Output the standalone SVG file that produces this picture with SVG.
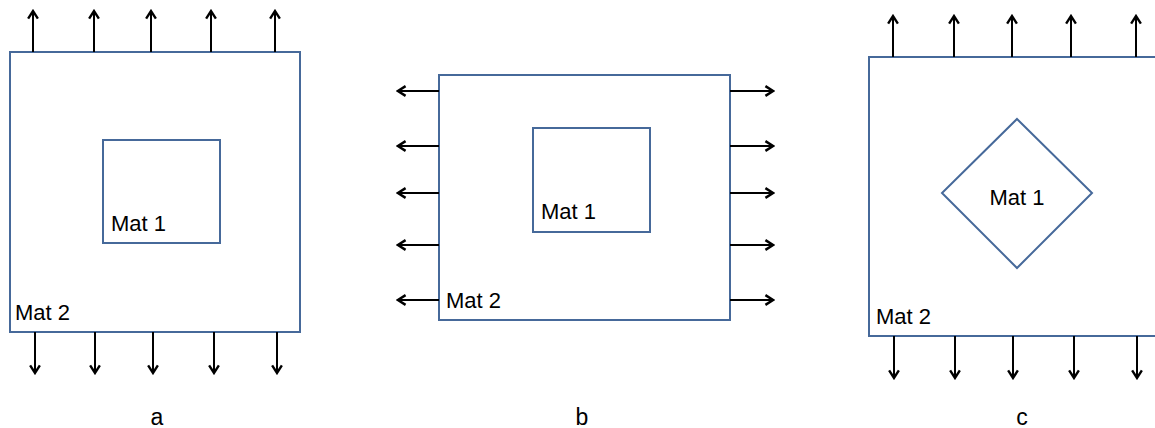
<svg xmlns="http://www.w3.org/2000/svg" width="1155" height="428" viewBox="0 0 1155 428">
<style>
.box{fill:none;stroke:#46699a;stroke-width:2}
.arr{stroke:#000;stroke-width:2;fill:none;marker-end:url(#ah)}
text{font-family:"Liberation Sans",Arial,sans-serif;font-size:22px;fill:#000}
.cap{font-size:23px}
</style>
<defs>
<marker id="ah" viewBox="0 0 12 12" refX="10" refY="6" markerWidth="6.5" markerHeight="6.5" orient="auto" markerUnits="strokeWidth">
<path d="M3,1.5 L10,6 L3,10.5" fill="none" stroke="#000" stroke-width="2.2"/>
</marker>
</defs>
<g id="panel-a">
<rect class="box" x="10" y="52" width="290" height="280"/>
<rect class="box" x="103" y="140" width="117" height="103"/>
<text x="111" y="231">Mat 1</text>
<text x="15" y="320">Mat 2</text>
<text class="cap" x="157" y="425" text-anchor="middle">a</text>
</g>
<g id="panel-b">
<rect class="box" x="439" y="75" width="291" height="245"/>
<rect class="box" x="533" y="128" width="117" height="104"/>
<text x="541" y="219">Mat 1</text>
<text x="446" y="308">Mat 2</text>
<text class="cap" x="582" y="425" text-anchor="middle">b</text>
</g>
<g id="panel-c">
<rect class="box" x="869" y="57" width="300" height="279"/>
<polygon class="box" points="1017,119 1092,193 1017,268 942,193"/>
<text x="1017" y="205" text-anchor="middle">Mat 1</text>
<text x="876" y="324">Mat 2</text>
<text class="cap" x="1022" y="425" text-anchor="middle">c</text>
</g>
<g id="connectors">
<line class="arr" x1="33" y1="52" x2="33" y2="11"/>
<line class="arr" x1="94" y1="52" x2="94" y2="11"/>
<line class="arr" x1="151" y1="52" x2="151" y2="11"/>
<line class="arr" x1="211" y1="52" x2="211" y2="11"/>
<line class="arr" x1="275" y1="52" x2="275" y2="11"/>
<line class="arr" x1="35" y1="332" x2="35" y2="373"/>
<line class="arr" x1="95" y1="332" x2="95" y2="373"/>
<line class="arr" x1="153" y1="332" x2="153" y2="373"/>
<line class="arr" x1="214" y1="332" x2="214" y2="373"/>
<line class="arr" x1="277" y1="332" x2="277" y2="373"/>
<line class="arr" x1="439" y1="91" x2="398" y2="91"/>
<line class="arr" x1="439" y1="146" x2="398" y2="146"/>
<line class="arr" x1="439" y1="193" x2="398" y2="193"/>
<line class="arr" x1="439" y1="245" x2="398" y2="245"/>
<line class="arr" x1="439" y1="300" x2="398" y2="300"/>
<line class="arr" x1="730" y1="91" x2="773" y2="91"/>
<line class="arr" x1="730" y1="146" x2="773" y2="146"/>
<line class="arr" x1="730" y1="193" x2="773" y2="193"/>
<line class="arr" x1="730" y1="245" x2="773" y2="245"/>
<line class="arr" x1="730" y1="300" x2="773" y2="300"/>
<line class="arr" x1="893" y1="57" x2="893" y2="16"/>
<line class="arr" x1="954" y1="57" x2="954" y2="16"/>
<line class="arr" x1="1012" y1="57" x2="1012" y2="16"/>
<line class="arr" x1="1071" y1="57" x2="1071" y2="16"/>
<line class="arr" x1="1136" y1="57" x2="1136" y2="16"/>
<line class="arr" x1="894" y1="336" x2="894" y2="378"/>
<line class="arr" x1="955" y1="336" x2="955" y2="378"/>
<line class="arr" x1="1013" y1="336" x2="1013" y2="378"/>
<line class="arr" x1="1074" y1="336" x2="1074" y2="378"/>
<line class="arr" x1="1137" y1="336" x2="1137" y2="378"/>
</g>
</svg>
